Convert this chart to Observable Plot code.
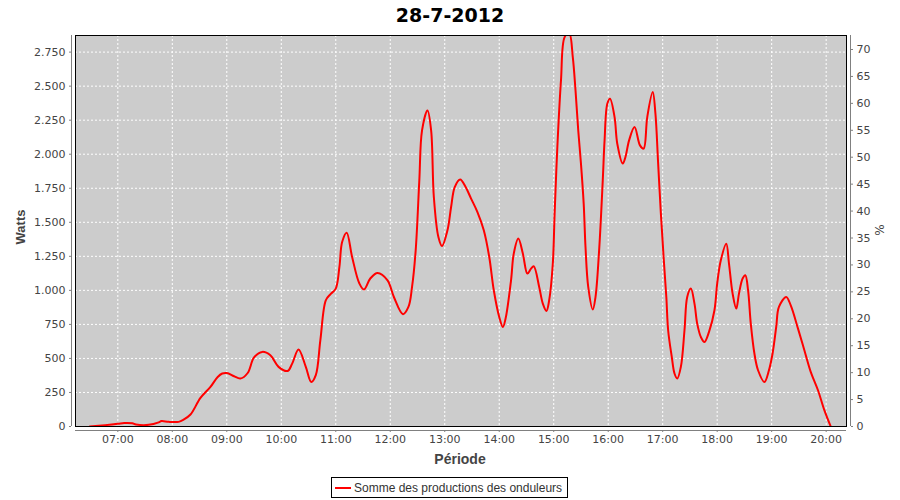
<!DOCTYPE html>
<html>
<head>
<meta charset="utf-8">
<script src="https://cdn.jsdelivr.net/npm/d3@7"></script>
<script src="https://cdn.jsdelivr.net/npm/@observablehq/plot@0.6"></script>
<style>
  body { margin: 0; background: #fff; }
  #wrap { position: relative; width: 900px; height: 500px; overflow: hidden; font-family: "DejaVu Sans", sans-serif; }
  #chart { position: absolute; left: 0; top: 0; }
  .lbl { position: absolute; color: #444; white-space: nowrap; transform: translate(-50%, -50%); }
  .rot { transform: translate(-50%, -50%) rotate(-90deg); }
  #legend { position: absolute; left: 331px; top: 477px; width: 235px; height: 19px; border: 1px solid #000; background: #fff;
            display: flex; align-items: center; font-family: "Liberation Sans", sans-serif; font-size: 12px; color: #333; white-space: nowrap; }
  #legend .sw { width: 16px; height: 2px; background: #ff0000; margin: 0 3px 0 3px; flex: none; }
</style>
</head>
<body>
<div id="wrap">
  <div id="chart"></div>
  <div class="lbl" id="title" style="left:450px; top:15px; font-weight:bold; font-size:19px; color:#000;">28-7-2012</div>
  <div class="lbl rot" style="left:20px; top:227px; font-family:'Liberation Sans',sans-serif; font-weight:bold; font-size:13px;">Watts</div>
  <div class="lbl rot" style="left:880px; top:230px; font-size:12px;">%</div>
  <div class="lbl" style="left:460px; top:459px; font-family:'Liberation Sans',sans-serif; font-weight:bold; font-size:14px;">Période</div>
  <div id="legend"><div class="sw"></div><span>Somme des productions des onduleurs</span></div>
</div>
<script>
// ---- data ----
const times = ["06:29","06:46","07:00","07:07","07:16","07:20","07:34","07:45","07:48","07:56",
  "08:07","08:12","08:20","08:31","08:42","08:50","08:55","09:00","09:08","09:15",
  "09:23","09:30","09:39","09:48","09:57","10:07","10:12","10:19","10:27","10:33",
  "10:38","10:43","10:49","10:54","11:00","11:04","11:07","11:12","11:18","11:26",
  "11:31","11:38","11:46","11:57","12:04","12:14","12:20","12:24","12:28","12:32",
  "12:35","12:41","12:45","12:48","12:53","12:57","13:03","13:07","13:11","13:17",
  "13:23","13:29","13:36","13:43","13:49","13:54","14:00","14:04","14:07","14:13",
  "14:16","14:21","14:26","14:31","14:35","14:38","14:44","14:48","14:52","14:55",
  "14:59","15:01","15:04","15:08","15:12","15:17","15:21","15:24","15:27","15:30",
  "15:33","15:35","15:38","15:43","15:46","15:50","15:54","15:56","15:59","16:02",
  "16:07","16:10","16:16","16:19","16:23","16:29","16:35","16:39","16:43","16:49",
  "16:52","16:55","16:58","17:01","17:04","17:06","17:10","17:13","17:16","17:20",
  "17:24","17:27","17:31","17:35","17:38","17:42","17:46","17:51","17:57","18:00",
  "18:04","18:10","18:13","18:17","18:21","18:24","18:28","18:31","18:34","18:37",
  "18:41","18:45","18:52","18:57","19:01","19:05","19:08","19:16","19:21","19:29",
  "19:36","19:43","19:51","19:58","20:05"];
const watts = [0,10,20,26,24,15,12,30,40,34,
  34,48,88,210,291,364,389,393,369,352,
  393,507,548,523,438,408,462,565,438,327,
  377,633,927,971,1013,1172,1355,1424,1245,1050,
  1006,1087,1128,1074,951,825,878,1025,1294,1808,
  2175,2322,2175,1686,1392,1326,1441,1612,1759,1815,
  1759,1674,1575,1441,1245,1001,805,731,793,1074,
  1270,1380,1270,1123,1160,1177,1025,903,849,927,
  1197,1564,2053,2542,2860,2890,2713,2469,2175,1931,
  1637,1318,1025,859,951,1294,1808,2102,2371,2408,
  2273,2077,1931,1980,2102,2200,2065,2041,2273,2457,
  2298,1931,1564,1245,951,707,511,389,352,438,
  707,951,1013,903,756,658,621,695,854,1050,
  1221,1343,1197,976,866,976,1087,1111,1001,756,
  536,413,327,413,536,731,878,951,890,719,
  560,401,266,120,0];
const hourLabels = ["07:00","08:00","09:00","10:00","11:00","12:00","13:00","14:00","15:00","16:00","17:00","18:00","19:00","20:00"];
const wattTicks = [0,250,500,750,1000,1250,1500,1750,2000,2250,2500,2750];
const pctTicks = [0,5,10,15,20,25,30,35,40,45,50,55,60,65,70];
const wattMax = 2872;
const pctMax = 72.6;
const xStart = "06:13:24", xEnd = "20:22:24";

// ---- build ----
const toDate = (s) => { const [h, m, sec] = s.split(":").map(Number); return new Date(Date.UTC(2012, 6, 28, h, m, sec || 0)); };
const data = times.map((t, i) => ({ t: toDate(t), w: watts[i] }));
const hourTicks = hourLabels.map(toDate);
const k = wattMax / pctMax;
const fr = d3.formatLocale({ decimal: ",", thousands: ".", grouping: [3], currency: ["", ""] }).format(",d");
const x0 = toDate(xStart), x1 = toDate(xEnd);
const gridStyle = { stroke: "#ffffff", strokeOpacity: 1, strokeWidth: 1, strokeDasharray: "2,2" };

const chart = Plot.plot({
  width: 900, height: 500,
  marginLeft: 75, marginRight: 54, marginTop: 35, marginBottom: 74,
  style: { fontFamily: "DejaVu Sans, sans-serif", fontSize: "11px", color: "#444", background: "transparent" },
  x: { type: "utc", domain: [x0, x1], label: null },
  y: { domain: [0, wattMax], label: null },
  marks: [
    Plot.frame({ fill: "#cccccc" }),
    Plot.gridX(hourTicks, gridStyle),
    Plot.gridY(wattTicks.slice(1), gridStyle),
    Plot.line(data, { x: "t", y: "w", stroke: "#ff0000", strokeWidth: 2, curve: "catmull-rom", clip: true }),
    Plot.frame({ stroke: "#000000", strokeWidth: 1 }),
    Plot.ruleX([x0], { dx: -4, stroke: "#808080" }),
    Plot.ruleX([x1], { dx: 4, stroke: "#808080" }),
    Plot.ruleY([0], { dy: 4, stroke: "#808080" }),
    Plot.axisY(wattTicks, { anchor: "left", dx: -4, tickSize: 2, tickPadding: 4, tickFormat: fr, label: null, stroke: "#808080", fill: "#444" }),
    Plot.axisY(pctTicks.map(p => p * k), { anchor: "right", dx: 4, tickSize: 2, tickPadding: 4, tickFormat: d => String(Math.round(d / k)), label: null, stroke: "#808080", fill: "#444" }),
    Plot.axisX(hourTicks, { anchor: "bottom", dy: 4, tickSize: 2, tickPadding: 3, tickFormat: d3.utcFormat("%H:%M"), label: null, stroke: "#808080", fill: "#444" })
  ]
});
document.getElementById("chart").appendChild(chart);
</script>
</body>
</html>
